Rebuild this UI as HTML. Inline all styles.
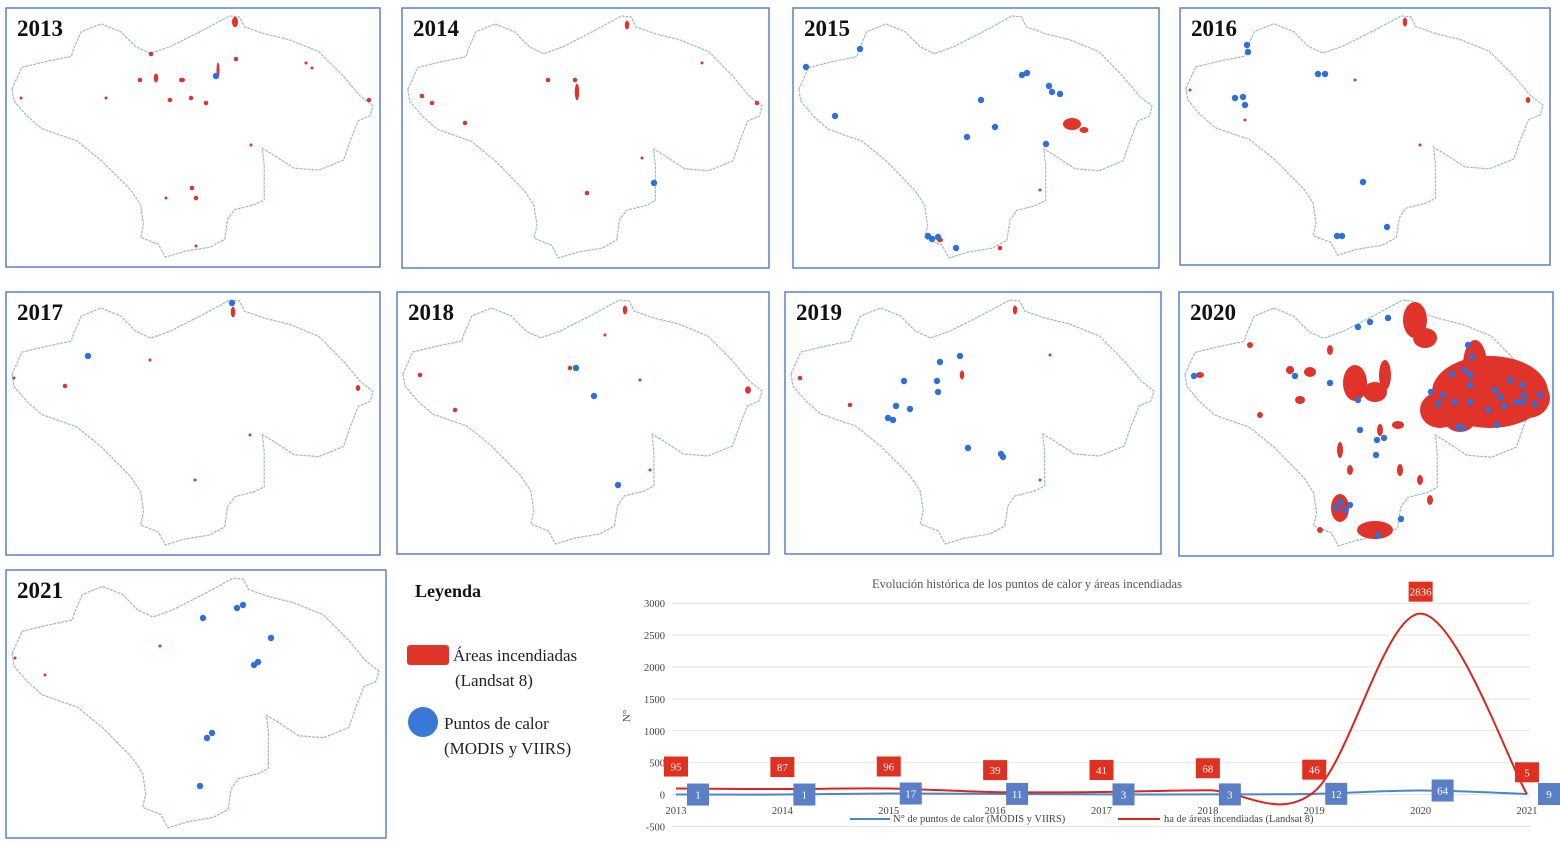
<!DOCTYPE html>
<html><head><meta charset="utf-8">
<style>
html,body{margin:0;padding:0;background:#fff;}
svg{display:block;font-family:"Liberation Serif",serif;}
</style></head>
<body>
<svg id="root" width="1560" height="846" viewBox="0 0 1560 846" xmlns="http://www.w3.org/2000/svg">
<defs>
<path id="outline" d="M4,80 L14,58 L39,52 L64,47 L66,40 L74,22 L94,14 L114,22 L129,37 L144,44 L164,37 L194,22 L224,6 L234,7 L239,17 L259,24 L284,30 L314,42 L339,67 L356,87 L369,97 L366,107 L354,112 L346,132 L339,152 L314,162 L289,160 L269,147 L257,140 L259,157 L259,192 L249,197 L229,202 L222,212 L219,232 L204,240 L179,244 L159,250 L152,237 L134,230 L137,217 L134,197 L124,182 L114,172 L94,152 L69,132 L54,127 L34,120 L19,107 L6,92 Z" fill="none" stroke="#9bb8e0" stroke-width="1.2" stroke-dasharray="3 1"/>
</defs>
<g id="maps"></g>
<g id="legend">
<text x="415" y="597" font-size="18" font-weight="bold" fill="#111">Leyenda</text>
<rect x="407" y="645" width="42" height="20" rx="3" fill="#e0332a"/>
<text x="453" y="661" font-size="17" fill="#222">Áreas incendiadas</text>
<text x="455" y="686" font-size="17" fill="#222">(Landsat 8)</text>
<circle cx="423" cy="722" r="15" fill="#3a78d8"/>
<text x="444" y="729" font-size="17" fill="#222">Puntos de calor</text>
<text x="444" y="754" font-size="17" fill="#222">(MODIS y VIIRS)</text>
</g>
<g id="chart"></g>
</svg>
<script>
const NS="http://www.w3.org/2000/svg";
function mk(tag,attrs,parent){const e=document.createElementNS(NS,tag);for(const k in attrs)e.setAttribute(k,attrs[k]);parent.appendChild(e);return e;}

/* ---------- chart data ---------- */
const years=["2013","2014","2015","2016","2017","2018","2019","2020","2021"];
const hotspots=[1,1,17,11,3,3,12,64,9];
const burned=[95,87,96,39,41,68,46,2836,5];
const yTicks=[3000,2500,2000,1500,1000,500,0,-500];

/* ---------- maps ---------- */
const panels=[
 {y:"2013",x:6,t:8,w:374,h:259,red:[[235,22,4,7],[151,54,3,3],[156,78,3,6],[182,80,4,3],[191,98,3,3],[206,103,3,3],[218,70,2,10],[236,59,3,3],[306,63,2,2],[312,68,2,2],[369,100,3,3],[21,98,2,2],[106,98,2,2],[251,145,2,2],[192,188,3,3],[196,198,3,3],[166,198,2,2],[196,246,2,2],[140,80,3,3],[170,100,3,3]],blue:[[216,76]]},
 {y:"2014",x:402,t:8,w:367,h:260,red:[[627,25,3,6],[575,80,3,3],[577,92,3,11],[422,96,3,3],[465,123,3,3],[587,193,3,3],[642,158,2,2],[757,103,3,3],[702,63,2,2],[432,103,3,3],[548,80,3,3]],blue:[[654,183]]},
 {y:"2015",x:793,t:8,w:366,h:260,red:[[1072,124,12,8],[1000,248,3,3],[940,240,4,3],[1040,190,2,2],[1084,130,6,4]],blue:[[806,67],[860,49],[835,116],[981,100],[1022,75],[1027,73],[1049,86],[1052,92],[1060,94],[1046,144],[995,127],[967,137],[928,236],[932,239],[938,237],[956,248]]},
 {y:"2016",x:1180,t:8,w:370,h:257,red:[[1405,22,3,6],[1528,100,3,4],[1190,90,2,2],[1245,120,2,2],[1420,145,2,2],[1355,80,2,2]],blue:[[1247,45],[1248,52],[1318,74],[1325,74],[1235,98],[1243,97],[1245,105],[1363,182],[1337,236],[1342,236],[1387,227]]},
 {y:"2017",x:6,t:292,w:374,h:263,red:[[233,312,3,7],[358,388,3,4],[65,386,3,3],[14,378,2,2],[250,435,2,2],[150,360,2,2],[195,480,2,2]],blue:[[88,356],[232,303]]},
 {y:"2018",x:397,t:292,w:372,h:262,red:[[625,310,3,6],[748,390,4,5],[420,375,3,3],[455,410,3,3],[570,368,3,3],[650,470,2,2],[640,380,2,2],[605,335,2,2]],blue:[[576,368],[594,396],[618,485]]},
 {y:"2019",x:785,t:292,w:376,h:262,red:[[1015,310,3,6],[962,375,3,6],[800,378,3,3],[850,405,3,3],[1040,480,2,2],[1050,355,2,2]],blue:[[960,356],[940,362],[904,381],[937,381],[938,392],[896,406],[910,409],[888,418],[893,420],[968,448],[1001,454],[1003,457]]},
 {y:"2020",x:1179,t:292,w:374,h:264,red:[[1490,392,58,36],[1475,365,12,25],[1528,398,22,20],[1440,410,20,18],[1460,420,15,12],[1415,320,12,18],[1425,338,12,10],[1355,383,12,18],[1375,392,12,10],[1385,375,6,15],[1310,372,6,5],[1300,400,5,4],[1340,508,9,14],[1375,530,18,9],[1340,450,3,8],[1290,370,4,4],[1200,375,4,3],[1260,415,3,3],[1380,430,3,6],[1350,470,3,5],[1400,470,3,6],[1420,480,3,5],[1430,500,3,5],[1320,530,3,3],[1250,345,3,3],[1330,350,3,5],[1398,425,6,4]],blue:[[1388,318],[1370,322],[1358,327],[1194,376],[1295,376],[1330,383],[1358,400],[1360,430],[1377,440],[1384,438],[1376,455],[1340,502],[1336,508],[1345,510],[1350,505],[1401,519],[1378,535],[1468,345],[1472,357],[1465,370],[1470,375],[1452,374],[1431,392],[1443,395],[1438,404],[1455,402],[1470,402],[1495,390],[1500,397],[1510,380],[1522,385],[1524,395],[1516,402],[1523,402],[1504,406],[1540,395],[1488,410],[1458,427],[1463,428],[1497,425],[1535,404],[1470,385]]},
 {y:"2021",x:6,t:570,w:380,h:268,red:[[160,646,2,2],[15,658,2,2],[45,675,2,2]],blue:[[203,618],[237,608],[243,605],[271,638],[254,665],[258,662],[207,738],[212,733],[200,786]]}
];
const maps=document.getElementById('maps');
panels.forEach(p=>{
 const g=mk('g',{},maps);
 
 
 const fr=mk('rect',{x:p.x,y:p.t,width:p.w,height:p.h,fill:'#fff',stroke:'#5b80cf','stroke-width':1.5},g);
 
 
 const u=mk('use',{href:'#outline',transform:`translate(${p.x+2},${p.t+2}) scale(${(p.w-4)/374},${(p.h-4)/258})`},g);
 
 
 const s=p.y==="2020"?1:0.75;
 p.red.forEach(r=>{
  const e=mk('ellipse',{cx:r[0],cy:r[1],rx:Math.max(1.2,r[2]*s),ry:Math.max(1.2,r[3]*s),fill:'#e0332a'},g);
  
  
 });
 p.blue.forEach(b=>{
  const c=mk('circle',{cx:b[0],cy:b[1],r:3.2,fill:'#2f6fd6'},g);
  
  
 });
 const t=mk('text',{x:p.x+11,y:p.t+28,'font-size':23,'font-weight':'bold',fill:'#111'},g);
 t.textContent=p.y;
 
 
});

/* ---------- chart ---------- */
const ch=document.getElementById('chart');
const X0=676,X1=1527,Y0=794.6,YPER=31.9/500;
const xs=i=>X0+(X1-X0)*i/(years.length-1);
const ys=v=>Y0-v*YPER;
const title=mk('text',{x:1027,y:588,'font-size':12.5,'text-anchor':'middle',fill:'#555'},ch);
title.textContent="Evolución histórica de los puntos de calor y áreas incendiadas";


yTicks.forEach(v=>{
 const l=mk('line',{x1:672,x2:1530,y1:ys(v),y2:ys(v),stroke:'#e2e2e2','stroke-width':1},ch);
 
 
 const t=mk('text',{x:665,y:ys(v)+4,'font-size':10.5,'text-anchor':'end',fill:'#444'},ch);
 t.textContent=v;
 
 
});
const yt=mk('text',{x:0,y:0,'font-size':11,fill:'#444',transform:'translate(630,716) rotate(-90)','text-anchor':'middle'},ch);
yt.textContent="N°";


years.forEach((y,i)=>{
 const t=mk('text',{x:xs(i),y:814,'font-size':10.5,'text-anchor':'middle',fill:'#444'},ch);
 t.textContent=y;
 
 
});
function smooth(vals){
 const P=vals.map((v,i)=>[xs(i),ys(v)]);
 let d=`M${P[0][0]},${P[0][1]}`;
 for(let i=0;i<P.length-1;i++){
  const p0=P[Math.max(0,i-1)],p1=P[i],p2=P[i+1],p3=P[Math.min(P.length-1,i+2)];
  const c1=[p1[0]+(p2[0]-p0[0])/6,p1[1]+(p2[1]-p0[1])/6];
  const c2=[p2[0]-(p3[0]-p1[0])/6,p2[1]-(p3[1]-p1[1])/6];
  d+=` C${c1[0]},${c1[1]} ${c2[0]},${c2[1]} ${p2[0]},${p2[1]}`;
 }
 return d;
}
const bl=mk('path',{d:smooth(hotspots),fill:'none',stroke:'#4a86c8','stroke-width':2},ch);


const rl=mk('path',{d:smooth(burned),fill:'none',stroke:'#d9261c','stroke-width':2},ch);


burned.forEach((v,i)=>{
 const cx=xs(i),cy=ys(v)-22;
 const r=mk('rect',{x:cx-12,y:cy-10,width:24,height:20,fill:'#e0301f'},ch);
 
 
 const t=mk('text',{x:cx,y:cy+4,'font-size':11,'text-anchor':'middle',fill:'#fff'},ch);
 t.textContent=v;
 
 
});
hotspots.forEach((v,i)=>{
 const cx=xs(i)+22,cy=ys(v);
 const r=mk('rect',{x:cx-11,y:cy-11,width:22,height:22,fill:'#5b7fc6'},ch);
 
 
 const t=mk('text',{x:cx,y:cy+4,'font-size':11,'text-anchor':'middle',fill:'#fff'},ch);
 t.textContent=v;
 
 
});
const lg1=mk('line',{x1:850,x2:890,y1:819,y2:819,stroke:'#4a86c8','stroke-width':2},ch);


const lt1=mk('text',{x:893,y:822,'font-size':10.5,fill:'#444'},ch);
lt1.textContent="N° de puntos de calor (MODIS y VIIRS)";


const lg2=mk('line',{x1:1118,x2:1160,y1:819,y2:819,stroke:'#d9261c','stroke-width':2},ch);


const lt2=mk('text',{x:1164,y:822,'font-size':10.5,fill:'#444'},ch);
lt2.textContent="ha de áreas incendiadas (Landsat 8)";


</script>
</body></html>
